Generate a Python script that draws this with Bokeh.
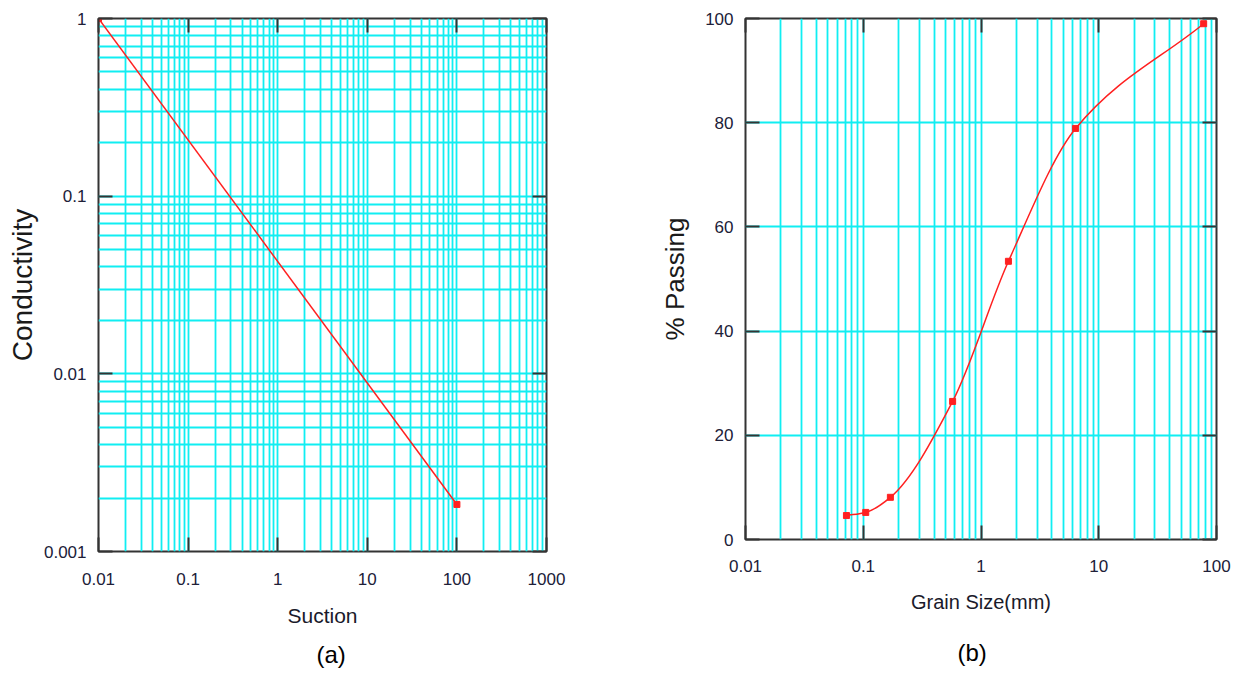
import numpy as np
from bokeh.plotting import figure
from bokeh.models import FixedTicker, LogAxis, LinearAxis, Title, Range1d
from bokeh.layouts import row
from bokeh.embed import file_html
from bokeh.resources import INLINE

# ---------------- data: panel (a) ----------------
suction = [0.01, 100.0]
conductivity = [1.0, 0.00184]
a_x_ticks = [0.01, 0.1, 1, 10, 100, 1000]
a_x_labels = ["0.01", "0.1", "1", "10", "100", "1000"]
a_y_ticks = [0.001, 0.01, 0.1, 1]
a_y_labels = ["0.001", "0.01", "0.1", "1"]

# ---------------- data: panel (b) ----------------
grain_size = [0.072, 0.105, 0.17, 0.574, 1.71, 6.36, 77.8]
passing = [4.6, 5.2, 8.1, 26.5, 53.4, 78.9, 99.0]
b_x_ticks = [0.01, 0.1, 1, 10, 100]
b_x_labels = ["0.01", "0.1", "1", "10", "100"]
b_y_ticks = [0, 20, 40, 60, 80, 100]
b_y_labels = ["0", "20", "40", "60", "80", "100"]

CYAN = "#10eef2"
RED = "#ff2020"
DARK = "#333333"
FONT = "Liberation Sans"
TICKCOL = "#202038"


def minor_of(decades):
    return [d * k for d in decades[:-1] for k in range(2, 10)]


def style_axis(ax, ticker, labels_map, size="17px"):
    ax.ticker = ticker
    ax.major_label_overrides = labels_map
    ax.axis_line_color = None
    ax.major_tick_in = 14
    ax.major_tick_out = 0
    ax.major_tick_line_color = DARK
    ax.major_tick_line_width = 2
    ax.minor_tick_line_color = None
    ax.major_label_text_font = FONT
    ax.major_label_text_font_size = size
    ax.major_label_text_color = TICKCOL


def mirror_axis(p, kind, ticker, side):
    ax = kind(ticker=ticker)
    ax.axis_line_color = None
    ax.major_tick_in = 14
    ax.major_tick_out = 0
    ax.major_tick_line_color = DARK
    ax.major_tick_line_width = 2
    ax.minor_tick_line_color = None
    ax.major_label_text_font_size = "1px"
    ax.major_label_text_color = None
    ax.major_label_standoff = 0
    p.add_layout(ax, side)


def style_grid(g, minor=True):
    g.grid_line_color = CYAN
    g.grid_line_width = 1.8
    if minor:
        g.minor_grid_line_color = CYAN
        g.minor_grid_line_width = 1.8


# ================= panel (a) =================
p1 = figure(frame_width=448, frame_height=533,
            x_axis_type="log", y_axis_type="log",
            x_range=Range1d(0.01, 1000), y_range=Range1d(0.001, 1),
            output_backend="svg", toolbar_location=None,
            min_border_left=98, min_border_right=75,
            min_border_top=18, min_border_bottom=122)
p1.background_fill_color = "white"
p1.border_fill_color = "white"
p1.outline_line_color = DARK
p1.outline_line_width = 2

ax_t = FixedTicker(ticks=a_x_ticks, minor_ticks=minor_of(a_x_ticks))
ay_t = FixedTicker(ticks=a_y_ticks, minor_ticks=minor_of(a_y_ticks))
style_axis(p1.xaxis[0], ax_t, dict(zip(a_x_ticks, a_x_labels)))
style_axis(p1.yaxis[0], ay_t, dict(zip(a_y_ticks, a_y_labels)))
p1.xaxis[0].major_label_standoff = 17
p1.yaxis[0].major_label_standoff = 8
p1.xaxis[0].axis_label = "Suction"
p1.xaxis[0].axis_label_text_font = FONT
p1.xaxis[0].axis_label_text_font_size = "21px"
p1.xaxis[0].axis_label_text_font_style = "normal"
p1.xaxis[0].axis_label_text_color = "#1a1a2a"
p1.xaxis[0].axis_label_standoff = 16
p1.yaxis[0].axis_label = "Conductivity"
p1.yaxis[0].axis_label_text_font = FONT
p1.yaxis[0].axis_label_text_font_size = "28px"
p1.yaxis[0].axis_label_text_font_style = "normal"
p1.yaxis[0].axis_label_text_color = "#1a1a1a"
p1.yaxis[0].axis_label_standoff = 3
mirror_axis(p1, LogAxis, ax_t, "above")
mirror_axis(p1, LogAxis, ay_t, "right")
style_grid(p1.xgrid[0])
style_grid(p1.ygrid[0])

p1.line(suction, conductivity, line_color=RED, line_width=1.5)
p1.scatter(suction, conductivity, marker="square", size=6,
           fill_color=RED, line_color=RED)

cap_a = Title(text="(a)", align="left", text_font=FONT,
              text_font_size="24px", text_font_style="normal",
              text_color="#000000", standoff=19, offset=218)
p1.add_layout(cap_a, "below")

# ================= panel (b) =================
p2 = figure(frame_width=471, frame_height=521,
            x_axis_type="log",
            x_range=Range1d(0.01, 100), y_range=Range1d(0, 100),
            output_backend="svg", toolbar_location=None,
            min_border_left=124, min_border_right=27,
            min_border_top=18, min_border_bottom=134)
p2.background_fill_color = "white"
p2.border_fill_color = "white"
p2.outline_line_color = DARK
p2.outline_line_width = 2

bx_t = FixedTicker(ticks=b_x_ticks, minor_ticks=minor_of(b_x_ticks))
by_t = FixedTicker(ticks=b_y_ticks)
style_axis(p2.xaxis[0], bx_t, dict(zip(b_x_ticks, b_x_labels)))
style_axis(p2.yaxis[0], by_t, dict(zip(b_y_ticks, b_y_labels)))
p2.xaxis[0].major_label_standoff = 16
p2.yaxis[0].major_label_standoff = 12
p2.xaxis[0].axis_label = "Grain Size(mm)"
p2.xaxis[0].axis_label_text_font = FONT
p2.xaxis[0].axis_label_text_font_size = "20px"
p2.xaxis[0].axis_label_text_font_style = "normal"
p2.xaxis[0].axis_label_text_color = "#1a1a2a"
p2.xaxis[0].axis_label_standoff = 16
p2.yaxis[0].axis_label = "% Passing"
p2.yaxis[0].axis_label_text_font = FONT
p2.yaxis[0].axis_label_text_font_size = "26px"
p2.yaxis[0].axis_label_text_font_style = "normal"
p2.yaxis[0].axis_label_text_color = "#1a1a1a"
p2.yaxis[0].axis_label_standoff = 12
mirror_axis(p2, LogAxis, bx_t, "above")
mirror_axis(p2, LinearAxis, by_t, "right")
style_grid(p2.xgrid[0])
style_grid(p2.ygrid[0], minor=False)

# smooth curve through the measured points: monotone cubic (PCHIP-style)
# pieces in log-x space, drawn as Bezier segments
lx = np.log10(np.array(grain_size, dtype=float))
yy = np.array(passing, dtype=float)
h = np.diff(lx)
d = np.diff(yy) / h
m = np.empty_like(yy)
m[0] = d[0]
m[-1] = d[-1]
for i in range(1, len(yy) - 1):
    w1 = 2 * h[i] + h[i - 1]
    w2 = h[i] + 2 * h[i - 1]
    m[i] = (w1 + w2) / (w1 / d[i - 1] + w2 / d[i])
cx0 = [float(10 ** (lx[i] + h[i] / 3)) for i in range(len(h))]
cy0 = [float(yy[i] + m[i] * h[i] / 3) for i in range(len(h))]
cx1 = [float(10 ** (lx[i + 1] - h[i] / 3)) for i in range(len(h))]
cy1 = [float(yy[i + 1] - m[i + 1] * h[i] / 3) for i in range(len(h))]
p2.bezier(x0=grain_size[:-1], y0=passing[:-1], x1=grain_size[1:], y1=passing[1:],
          cx0=cx0, cy0=cy0, cx1=cx1, cy1=cy1,
          line_color=RED, line_width=1.5)
p2.scatter(grain_size, passing, marker="square", size=6,
           fill_color=RED, line_color=RED)

cap_b = Title(text="(b)", align="left", text_font=FONT,
              text_font_size="24px", text_font_style="normal",
              text_color="#000000", standoff=43, offset=212)
p2.add_layout(cap_b, "below")

layout = row(p1, p2, spacing=0)
open("out.html", "w").write(file_html(layout, INLINE))
